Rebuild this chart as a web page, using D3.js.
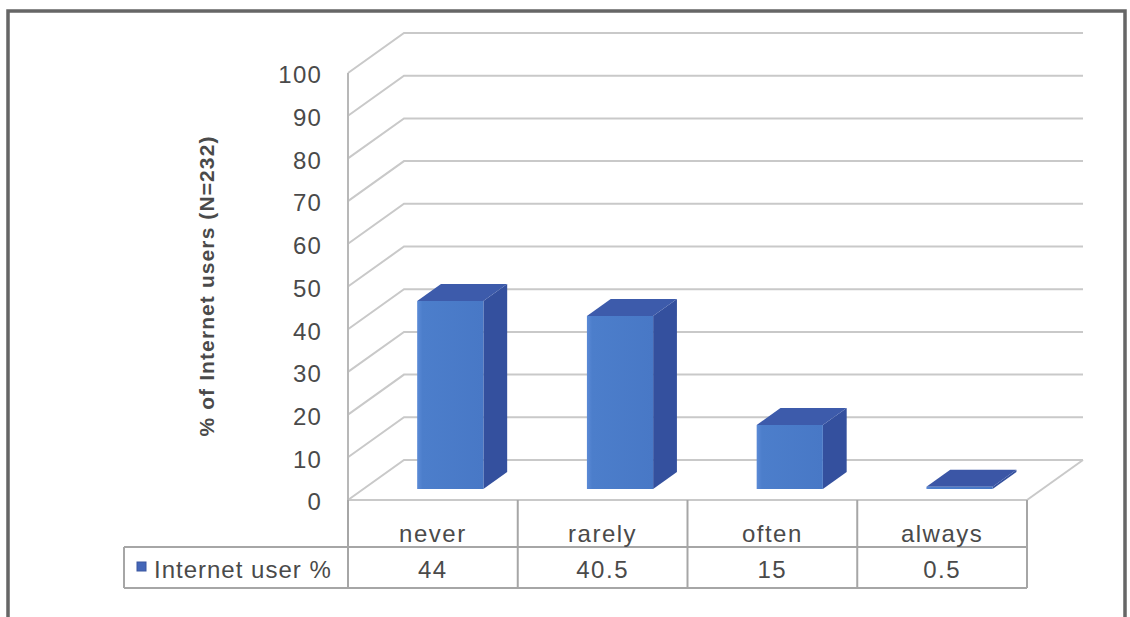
<!DOCTYPE html>
<html>
<head>
<meta charset="utf-8">
<script src="https://cdn.jsdelivr.net/npm/d3@7"></script>
<style>
  html, body { margin: 0; padding: 0; background: #ffffff; }
  svg { display: block; }
  text { font-family: "Liberation Sans", Arial, sans-serif; fill: #4a4a4a; }
</style>
</head>
<body>
<script>
// Survey data: how often internet users do something
const categories = ["never", "rarely", "often", "always"];
const values = [44, 40.5, 15, 0.5];
const seriesName = "Internet user %";
const yTicks = [0, 10, 20, 30, 40, 50, 60, 70, 80, 90, 100];
const yTitle = "% of Internet users (N=232)";

const W = 1130, H = 617;
const svg = d3.select("body").append("svg").attr("width", W).attr("height", H);

// 3D projection of the plot box: front plane origin and depth offset
const x0 = 348, x1 = 1027, yBase = 500;
const depth = { dx: 56, dy: -40 };
const barDepth = [0.275, 0.7];

const x = d3.scaleBand().domain(categories).range([x0, x1]);
const h = d3.scaleLinear().domain([0, 100]).range([0, 427]);

function proj(px, v, f) {
  return [px + f * depth.dx, yBase + f * depth.dy - h(v)];
}

// outer frame
svg.append("path")
  .attr("d", `M8,${H + 5} L8,11 L1125,11 L1125,${H + 5}`)
  .attr("fill", "none").attr("stroke", "#666").attr("stroke-width", 3.5);

// gridlines: diagonal side wall + horizontal back wall
const grid = svg.append("g").attr("fill", "none").attr("stroke", "#c9c9c9").attr("stroke-width", 2);
yTicks.forEach(t => {
  const a = proj(x0, t, 0), b = proj(x0, t, 1);
  grid.append("path").attr("d", d3.line()([a, b, [x1 + depth.dx, b[1]]]));
});
// floor outline
grid.append("path").attr("d", d3.line()([proj(x1, 0, 0), proj(x1, 0, 1)]));
grid.append("path").attr("d", d3.line()([proj(x0, 0, 0), proj(x1, 0, 0)]));

// vertical axis line
svg.append("line").attr("x1", x0).attr("x2", x0).attr("y1", yBase - h(100)).attr("y2", 588)
  .attr("stroke", "#b8b8b8").attr("stroke-width", 2);

// y tick labels
svg.append("g").selectAll("text").data(yTicks).join("text")
  .attr("x", 322).attr("y", d => yBase - h(d) + 4)
  .attr("text-anchor", "end").attr("dominant-baseline", "middle")
  .attr("font-size", 24).attr("letter-spacing", 1.2)
  .text(d => d);

// y axis title
svg.append("text")
  .attr("transform", `translate(214,286) rotate(-90)`)
  .attr("text-anchor", "middle")
  .attr("font-size", 21).attr("font-weight", "bold").attr("letter-spacing", 1.1)
  .attr("fill", "#555")
  .text(yTitle);

// bars as 3D prisms
const defs = svg.append("defs");
const grad = defs.append("linearGradient").attr("id", "front").attr("x1", 0).attr("x2", 1).attr("y1", 0).attr("y2", 0);
grad.append("stop").attr("offset", 0).attr("stop-color", "#5b8ad6");
grad.append("stop").attr("offset", 0.08).attr("stop-color", "#4c7ecb");
grad.append("stop").attr("offset", 1).attr("stop-color", "#4878c6");

const bw = x.bandwidth() * 0.39;
const bars = svg.append("g");
categories.forEach((c, i) => {
  const v = values[i];
  const l = x(c) + x.bandwidth() / 2 - bw / 2 + 2, r = l + bw;
  const [f0, f1] = barDepth;
  const g = bars.append("g");
  // right side face
  g.append("path").attr("fill", "#34509e")
    .attr("d", d3.line()([proj(r, 0, f0), proj(r, v, f0), proj(r, v, f1), proj(r, 0, f1)]) + "Z");
  // top face
  g.append("path").attr("fill", v < 2 ? "#3b56a6" : "#3d5bab")
    .attr("d", d3.line()([proj(l, v, f0), proj(r, v, f0), proj(r, v, f1), proj(l, v, f1)]) + "Z");
  // front face
  g.append("path").attr("fill", "url(#front)")
    .attr("d", d3.line()([proj(l, 0, f0), proj(r, 0, f0), proj(r, v, f0), proj(l, v, f0)]) + "Z");
});

// data table
const tbl = svg.append("g").attr("stroke", "#a6a6a6").attr("stroke-width", 2).attr("fill", "none");
const rowTop = 547, rowBot = 588, legL = 124;
tbl.append("line").attr("x1", legL).attr("x2", x1).attr("y1", rowTop).attr("y2", rowTop);
tbl.append("line").attr("x1", legL).attr("x2", x1).attr("y1", rowBot).attr("y2", rowBot);
tbl.append("line").attr("x1", legL).attr("x2", legL).attr("y1", rowTop).attr("y2", rowBot);
categories.forEach(c => {
  tbl.append("line").attr("x1", x(c)).attr("x2", x(c)).attr("y1", yBase).attr("y2", rowBot);
});
tbl.append("line").attr("x1", x1).attr("x2", x1).attr("y1", yBase).attr("y2", rowBot);

const txt = svg.append("g").attr("font-size", 24).attr("letter-spacing", 1.5).attr("text-anchor", "middle");
txt.selectAll("text.cat").data(categories).join("text").attr("class", "cat")
  .attr("x", d => x(d) + x.bandwidth() / 2).attr("y", 542).text(d => d);
txt.selectAll("text.val").data(values).join("text").attr("class", "val")
  .attr("x", (d, i) => x(categories[i]) + x.bandwidth() / 2).attr("y", 578).text(d => d);

// legend key in the table
svg.append("rect").attr("x", 137).attr("y", 562).attr("width", 9).attr("height", 9)
  .attr("fill", "#4466b8").attr("stroke", "#3a56a0");
svg.append("text").attr("x", 154).attr("y", 578).attr("font-size", 24).attr("letter-spacing", 1)
  .text(seriesName);
</script>
</body>
</html>
